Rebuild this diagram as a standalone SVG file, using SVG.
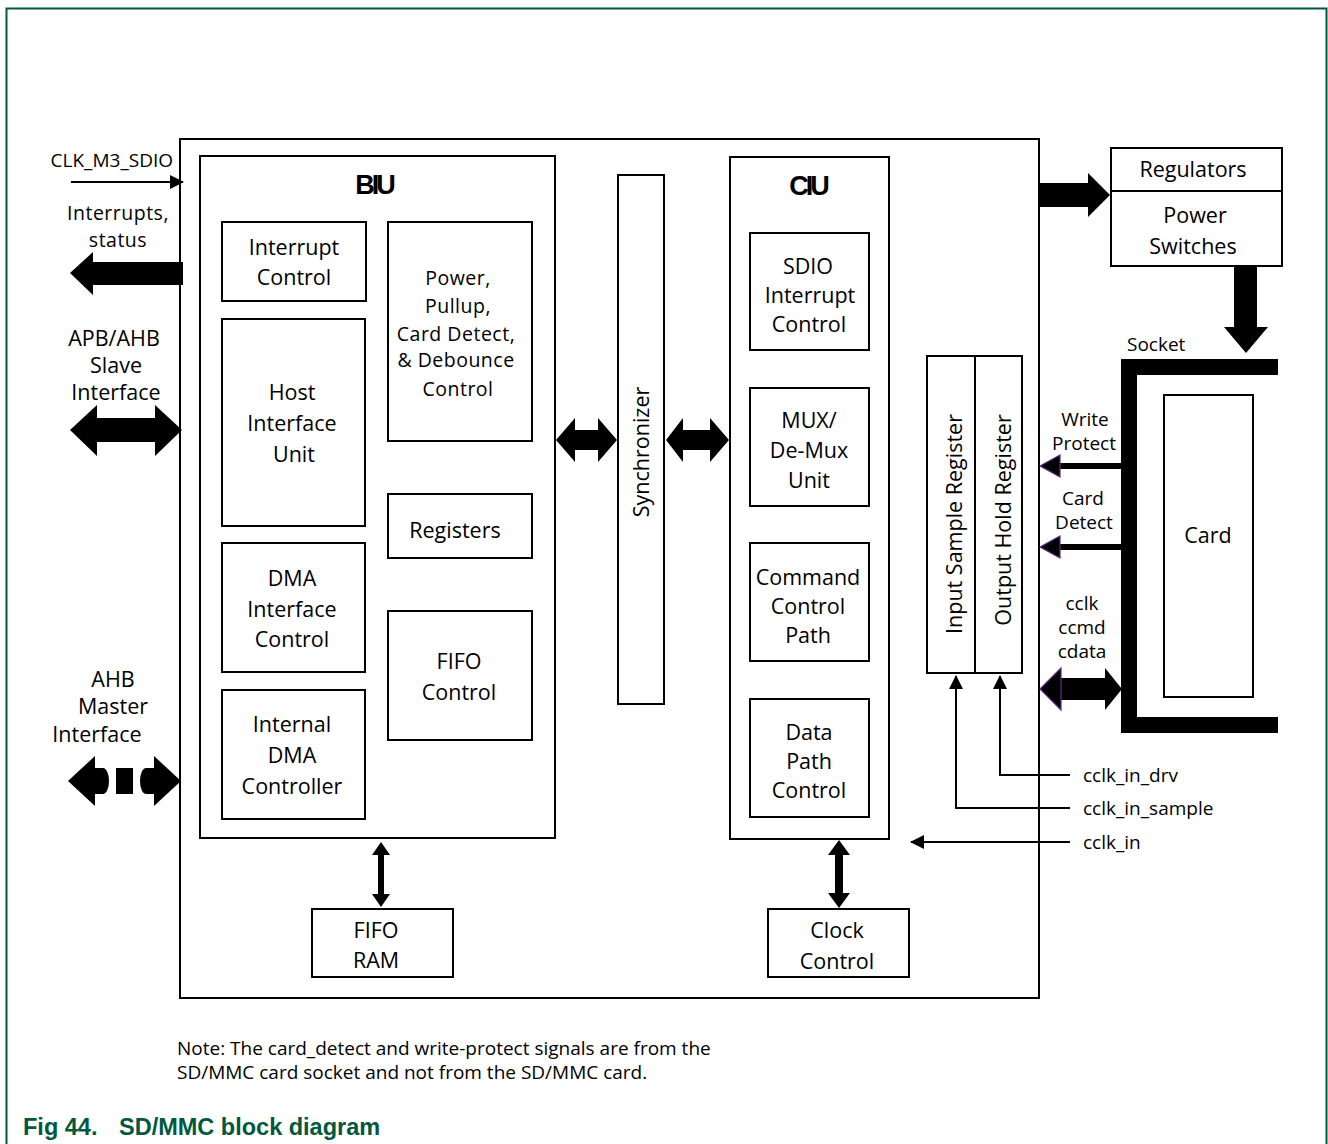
<svg xmlns="http://www.w3.org/2000/svg" width="1328" height="1144" viewBox="0 0 1328 1144">
<style>
.box{fill:#fff;stroke:#000;stroke-width:2}
.t{font-family:"Open Sans","Noto Sans",sans-serif;font-size:21.5px;fill:#000;text-anchor:middle}
.tc{font-size:19.5px;letter-spacing:0.5px}
.s{font-family:"Open Sans","Noto Sans",sans-serif;font-size:19px;fill:#000}
.ttl{font-family:"Liberation Sans",Arial,sans-serif;font-weight:bold;font-size:27px;letter-spacing:-3px;text-anchor:middle}
.blk{fill:#000}
.thin{stroke:#000;stroke-width:2;fill:none}
.pur{fill:#000;stroke:#5b2d86;stroke-width:1.2}
.cap{font-family:"Liberation Sans",Arial,sans-serif;font-weight:bold;font-size:23.5px;fill:#00583f}
</style>
<defs>
<marker id="ah" markerWidth="14" markerHeight="14" refX="13" refY="7" orient="auto" markerUnits="userSpaceOnUse">
<path d="M0,0 L14,7 L0,14 Z" fill="#000"/>
</marker>
</defs>
<rect x="6.5" y="8.5" width="1320" height="1150" fill="#fff" stroke="#00583f" stroke-width="2"/>

<g id="main"><rect class="box" x="180" y="139" width="859" height="859"/></g>
<g id="biu"><rect class="box" x="200" y="156" width="355" height="682"/><text class="ttl" x="374" y="194">BIU</text></g>
<g id="ciu"><rect class="box" x="730" y="157" width="159" height="682"/><text class="ttl" x="808" y="195">CIU</text></g>
<g id="sync"><rect class="box" x="618" y="175" width="46" height="529"/><text class="t" transform="translate(649,452) rotate(-90)">Synchronizer</text></g>

<g id="interrupt-control"><rect class="box" x="222" y="222" width="144" height="79"/><text class="t" x="294" y="255">Interrupt</text><text class="t" x="294" y="285">Control</text></g>
<g id="power-ctrl"><rect class="box" x="388" y="222" width="144" height="219"/>
<text class="t tc" x="458" y="285">Power,</text><text class="t tc" x="458" y="313">Pullup,</text><text class="t tc" x="456" y="341">Card Detect,</text><text class="t tc" x="456" y="367">&amp; Debounce</text><text class="t tc" x="458" y="396">Control</text></g>
<g id="host-if"><rect class="box" x="222" y="319" width="143" height="207"/><text class="t" x="292" y="400">Host</text><text class="t" x="292" y="431">Interface</text><text class="t" x="294" y="462">Unit</text></g>
<g id="registers"><rect class="box" x="388" y="494" width="144" height="64"/><text class="t" x="455" y="538">Registers</text></g>
<g id="dma-if"><rect class="box" x="222" y="543" width="143" height="129"/><text class="t" x="292" y="586">DMA</text><text class="t" x="292" y="617">Interface</text><text class="t" x="292" y="647">Control</text></g>
<g id="fifo-ctrl"><rect class="box" x="388" y="611" width="144" height="129"/><text class="t" x="459" y="669">FIFO</text><text class="t" x="459" y="700">Control</text></g>
<g id="idma"><rect class="box" x="222" y="690" width="143" height="129"/><text class="t" x="292" y="732">Internal</text><text class="t" x="292" y="763">DMA</text><text class="t" x="292" y="794">Controller</text></g>

<g id="sdio-int"><rect class="box" x="750" y="233" width="119" height="117"/><text class="t" x="808" y="274">SDIO</text><text class="t" x="810" y="303">Interrupt</text><text class="t" x="809" y="332">Control</text></g>
<g id="mux"><rect class="box" x="750" y="388" width="119" height="118"/><text class="t" x="809" y="428">MUX/</text><text class="t" x="809" y="458">De-Mux</text><text class="t" x="809" y="488">Unit</text></g>
<g id="cmd"><rect class="box" x="750" y="543" width="119" height="118"/><text class="t" x="808" y="585">Command</text><text class="t" x="808" y="614">Control</text><text class="t" x="808" y="643">Path</text></g>
<g id="data"><rect class="box" x="750" y="699" width="119" height="118"/><text class="t" x="809" y="740">Data</text><text class="t" x="809" y="769">Path</text><text class="t" x="809" y="798">Control</text></g>

<g id="in-sample"><rect class="box" x="927" y="356" width="48" height="317"/><text class="t" transform="translate(962,524) rotate(-90)">Input Sample Register</text></g>
<g id="out-hold"><rect class="box" x="975" y="356" width="47" height="317"/><text class="t" transform="translate(1011,520) rotate(-90)">Output Hold Register</text></g>

<g id="regulators"><rect class="box" x="1111" y="148" width="171" height="118"/><line class="thin" x1="1111" y1="191" x2="1282" y2="191" stroke-width="1.5"/>
<text class="t" x="1193" y="177">Regulators</text><text class="t" x="1195" y="223">Power</text><text class="t" x="1193" y="254">Switches</text></g>

<g id="socket"><path class="blk" d="M1121,359 H1278 V375 H1137 V717 H1278 V733 H1121 Z"/><text class="s" x="1127" y="351">Socket</text></g>
<g id="card"><rect class="box" x="1164" y="395" width="89" height="302"/><text class="t" x="1208" y="543">Card</text></g>

<g id="fifo-ram"><rect class="box" x="312" y="909" width="141" height="68"/><text class="t" x="376" y="938">FIFO</text><text class="t" x="376" y="968">RAM</text></g>
<g id="clock-ctrl"><rect class="box" x="768" y="909" width="141" height="68"/><text class="t" x="837" y="938">Clock</text><text class="t" x="837" y="969">Control</text></g>

<g id="labels">
<text class="s" x="173" y="167" text-anchor="end" font-size="19.5">CLK_M3_SDIO</text>
<text class="t tc" x="118" y="220">Interrupts,</text><text class="t tc" x="118" y="247">status</text>
<text class="t" x="114" y="346">APB/AHB</text><text class="t" x="116" y="373">Slave</text><text class="t" x="116" y="400">Interface</text>
<text class="t" x="113" y="687">AHB</text><text class="t" x="113" y="714">Master</text><text class="t" x="97" y="742">Interface</text>
<text class="s" x="1085" y="426" text-anchor="middle">Write</text><text class="s" x="1084" y="450" text-anchor="middle">Protect</text>
<text class="s" x="1083" y="505" text-anchor="middle">Card</text><text class="s" x="1084" y="529" text-anchor="middle">Detect</text>
<text class="s" x="1082" y="610" text-anchor="middle">cclk</text><text class="s" x="1082" y="634" text-anchor="middle">ccmd</text><text class="s" x="1082" y="658" text-anchor="middle">cdata</text>
<text class="s" x="1083" y="782">cclk_in_drv</text>
<text class="s" x="1083" y="815">cclk_in_sample</text>
<text class="s" x="1083" y="849">cclk_in</text>
<text class="s" x="177" y="1055" font-size="18">Note: The card_detect and write-protect signals are from the</text>
<text class="s" x="177" y="1079" font-size="18">SD/MMC card socket and not from the SD/MMC card.</text>
<text class="cap" x="23" y="1135">Fig 44.</text><text class="cap" x="119" y="1135">SD/MMC block diagram</text>
</g>

<g id="connectors">
<line class="thin" x1="71" y1="182" x2="183" y2="182" stroke-width="1.5" marker-end="url(#ah)"/>
<polygon class="blk" points="183,262 93,262 93,252 70,273 93,295 93,285 183,285"/>
<polygon class="blk" points="70,430 97,405 97,418 155,418 155,405 182,430 155,456 155,442 97,442 97,456"/>
<polygon class="blk" points="68,781 95,756 95,806"/>
<path class="blk" d="M95,768 H103 A6,13 0 0 1 103,794 H95 Z"/>
<rect class="blk" x="116" y="768" width="17" height="26"/>
<path class="blk" d="M154,768 H146 A6,13 0 0 0 146,794 H154 Z"/>
<polygon class="blk" points="181,781 154,756 154,806"/>
<polygon class="blk" points="556,440 575,418 575,430 598,430 598,418 617,440 598,462 598,450 575,450 575,462"/>
<polygon class="blk" points="666,440 683,418 683,430 710,430 710,418 729,440 710,462 710,450 683,450 683,462"/>
<polygon class="blk" points="1040,183 1088,183 1088,173 1110,195 1088,217 1088,207 1040,207"/>
<polygon class="blk" points="1234,266 1257,266 1257,327 1268,327 1246,353 1224,327 1234,327"/>
<rect class="blk" x="1059" y="463" width="62" height="6"/>
<polygon class="pur" points="1040,466 1060,455 1060,477"/>
<rect class="blk" x="1059" y="544" width="62" height="6"/>
<polygon class="pur" points="1040,547 1060,536 1060,558"/>
<rect class="blk" x="1060" y="678" width="46" height="22"/>
<polygon class="pur" points="1040,689 1061,668 1061,710"/>
<polygon class="blk" points="1122,689 1105,668 1105,710"/>
<polyline class="thin" points="1070,775 1000,775 1000,676" stroke-width="1.8" marker-end="url(#ah)"/>
<polyline class="thin" points="1070,808 956,808 956,676" stroke-width="1.8" marker-end="url(#ah)"/>
<line class="thin" x1="1070" y1="842" x2="911" y2="842" stroke-width="1.8" marker-end="url(#ah)"/>
<polygon class="blk" points="381,842 390,855 384,855 384,894 390,894 381,907 372,894 378,894 378,855 372,855"/>
<polygon class="blk" points="839,840 850,855 843,855 843,893 850,893 839,908 828,893 835,893 835,855 828,855"/>
</g>
</svg>
